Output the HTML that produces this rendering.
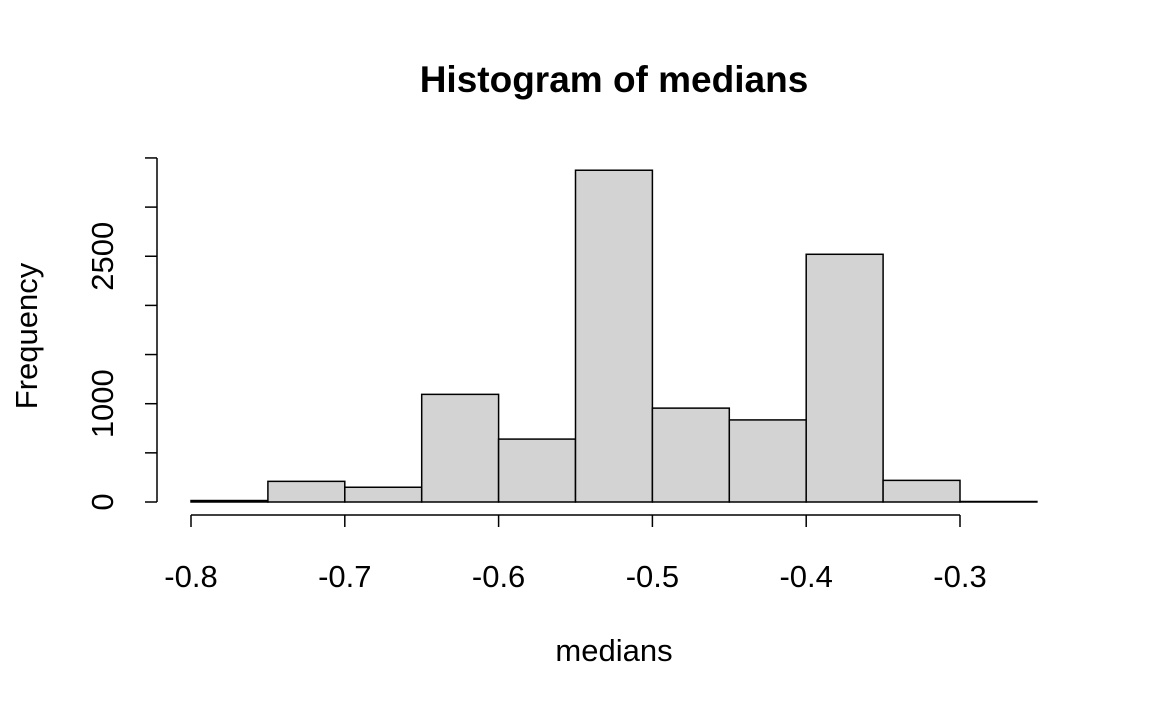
<!DOCTYPE html>
<html><head><meta charset="utf-8">
<style>
html,body{margin:0;padding:0;background:#fff;}
svg{display:block;font-family:"Liberation Sans",Arial,sans-serif;}
</style></head>
<body>
<svg id="chart" width="1152" height="711" viewBox="0 0 1152 711">
<rect width="1152" height="711" fill="#fff"/>
<text x="614" y="92" text-anchor="middle" font-size="37" font-weight="bold">Histogram of medians</text>
<text x="614" y="661" text-anchor="middle" font-size="31">medians</text>
<text transform="translate(37,336) rotate(-90)" text-anchor="middle" font-size="31">Frequency</text>
<g id="bars"></g>
<g id="xaxis"></g>
<g id="yaxis"></g>
</svg>
<script>
const binStarts = [-0.8,-0.75,-0.7,-0.65,-0.6,-0.55,-0.5,-0.45,-0.4,-0.35,-0.3];
const binWidth = 0.05;
const counts = [15,210,150,1095,640,3375,955,835,2520,220,5];
const xTicks = [-0.8,-0.7,-0.6,-0.5,-0.4,-0.3];
const xTickLabels = ["-0.8","-0.7","-0.6","-0.5","-0.4","-0.3"];
const yTicks = [0,500,1000,1500,2000,2500,3000,3500];
const yTickLabels = ["0","","1000","","","2500","",""];

const NS="http://www.w3.org/2000/svg";
function xs(v){return 191+(v+0.8)*1538;}
function ys(v){return 502-v*0.0983;}
function mk(tag,attrs,parent){const e=document.createElementNS(NS,tag);for(const k in attrs)e.setAttribute(k,attrs[k]);parent.appendChild(e);return e;}

const bars=document.getElementById('bars');
binStarts.forEach((b,i)=>{
  const x0=xs(b),x1=xs(b+binWidth),y=ys(counts[i]);
  const r=mk('rect',{x:x0,y:y,width:x1-x0,height:502-y,fill:'#d3d3d3',stroke:'#000','stroke-width':1.5},bars);
  
  
});

const xa=document.getElementById('xaxis');


mk('line',{x1:xs(xTicks[0]),x2:xs(xTicks[xTicks.length-1]),y1:515,y2:515,stroke:'#000','stroke-width':1.5},xa);
xTicks.forEach((t,i)=>{
  mk('line',{x1:xs(t),x2:xs(t),y1:515,y2:527,stroke:'#000','stroke-width':1.5},xa);
  const tx=mk('text',{x:xs(t),y:587,'text-anchor':'middle','font-size':31},xa);
  tx.textContent=xTickLabels[i];
  
  
});

const ya=document.getElementById('yaxis');


mk('line',{x1:157,x2:157,y1:ys(yTicks[0]),y2:ys(yTicks[yTicks.length-1]),stroke:'#000','stroke-width':1.5},ya);
yTicks.forEach((t,i)=>{
  mk('line',{x1:145,x2:157,y1:ys(t),y2:ys(t),stroke:'#000','stroke-width':1.5},ya);
  if(yTickLabels[i]){
    const tx=mk('text',{transform:'translate(113,'+ys(t)+') rotate(-90)','text-anchor':'middle','font-size':31},ya);
    tx.textContent=yTickLabels[i];
    
    
  }
});
</script>
</body></html>
